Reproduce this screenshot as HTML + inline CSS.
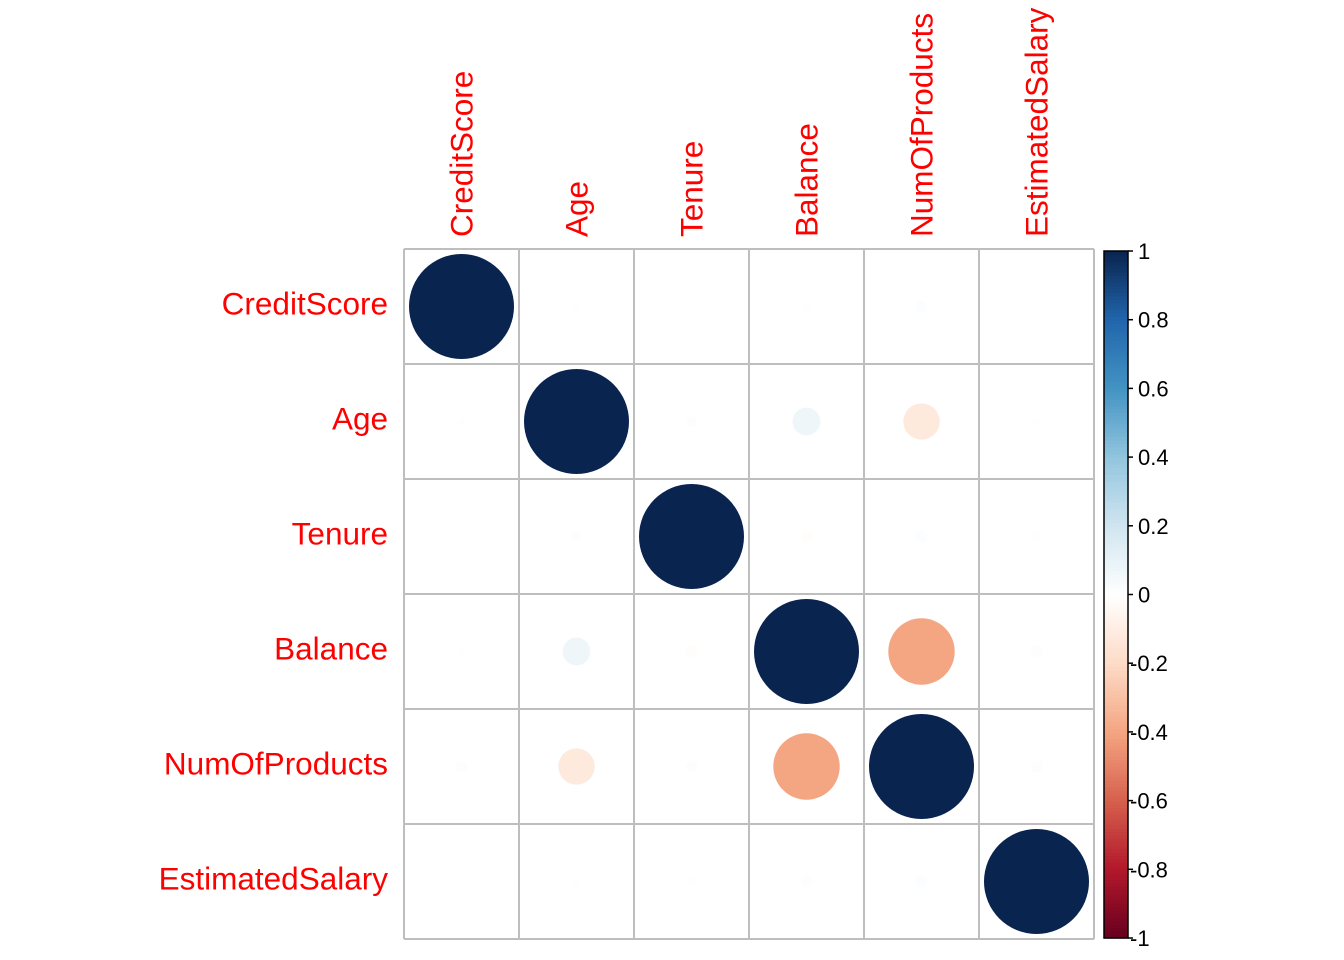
<!DOCTYPE html>
<html><head><meta charset="utf-8"><style>body{margin:0;background:#fff}svg{display:block}</style></head>
<body>
<svg id="c" width="1344" height="960" xmlns="http://www.w3.org/2000/svg" font-family="Liberation Sans, Arial, sans-serif"></svg>
<script>
const vars = ["CreditScore","Age","Tenure","Balance","NumOfProducts","EstimatedSalary"];
const corrRow0 = [1, -0.004, 0.001, 0.006, 0.012, -0.001];
const corrRow1 = [-0.004, 1, -0.01, 0.07, -0.12, -0.007];
const corrRow2 = [0.001, -0.01, 1, -0.012, 0.013, 0.008];
const corrRow3 = [0.006, 0.07, -0.012, 1, -0.40, 0.013];
const corrRow4 = [0.012, -0.12, 0.013, -0.40, 1, 0.014];
const corrRow5 = [-0.001, -0.007, 0.008, 0.013, 0.014, 1];
const corr = [corrRow0, corrRow1, corrRow2, corrRow3, corrRow4, corrRow5];
const barTicks = ["-1","-0.8","-0.6","-0.4","-0.2","0","0.2","0.4","0.6","0.8","1"];
const palette = ["#67001F","#B2182B","#D6604D","#F4A582","#FDDBC7","#FFFFFF","#D1E5F0","#92C5DE","#4393C3","#2166AC","#0A2450"];

const NS="http://www.w3.org/2000/svg", svg=document.getElementById('c');
const X0=404, Y0=249, CELL=115, N=vars.length;
function mk(t,a){const e=document.createElementNS(NS,t);for(const k in a)e.setAttribute(k,a[k]);svg.appendChild(e);return e;}
function hex(h){return [1,3,5].map(i=>parseInt(h.substr(i,2),16));}
function color(v){const t=(Math.max(-1,Math.min(1,v))+1)/2*(palette.length-1);const i=Math.min(Math.floor(t),palette.length-2),f=t-i;
 const a=hex(palette[i]),b=hex(palette[i+1]);return 'rgb('+a.map((x,k)=>Math.round(x+(b[k]-x)*f)).join(',')+')';}
const cx=j=>X0+CELL*(j+0.5), cy=i=>Y0+CELL*(i+0.5);
const yBar=v=>938-(v+1)/2*(938-251);

for(let i=0;i<N;i++)for(let j=0;j<N;j++){
 const v=corr[i][j];
 const c=mk('circle',{cx:cx(j),cy:cy(i),r:52.5*Math.sqrt(Math.abs(v)),fill:color(v)});
 
 
}
for(let k=0;k<=N;k++){
 const l1=mk('line',{x1:X0+CELL*k,x2:X0+CELL*k,y1:Y0,y2:Y0+CELL*N,stroke:'#bebebe','stroke-width':2});
 
 
 const l2=mk('line',{x1:X0,x2:X0+CELL*N,y1:Y0+CELL*k,y2:Y0+CELL*k,stroke:'#bebebe','stroke-width':2});
 
 
}
vars.forEach((n,i)=>{
 const t=mk('text',{x:388,y:cy(i)+8,'text-anchor':'end','font-size':31.5,fill:'#FF0000'});t.textContent=n;
 
 
 const x=cx(i)+11;
 const u=mk('text',{x:x,y:237,transform:'rotate(-90 '+x+' 237)','font-size':31.5,fill:'#FF0000'});u.textContent=n;
 
 
});
const steps=200;
for(let s=0;s<steps;s++){
 const v0=-1+2*s/steps, v1=-1+2*(s+1)/steps;
 const r=mk('rect',{x:1104,y:yBar(v1),width:24,height:yBar(v0)-yBar(v1)+0.6,fill:color((v0+v1)/2)});
 
 
}
const bd=mk('rect',{x:1104,y:251,width:24,height:687,fill:'none',stroke:'#000','stroke-width':1.5});


barTicks.forEach(lbl=>{
 const v=parseFloat(lbl),y=yBar(v);
 const tk=mk('line',{x1:1128,x2:1133,y1:y,y2:y,stroke:'#000','stroke-width':1.5});
 
 
 const t=mk('text',{x:v<0?1130:1138,y:y+8,'font-size':22,fill:'#000'});t.textContent=lbl;
 
 
});
</script>
</body></html>
